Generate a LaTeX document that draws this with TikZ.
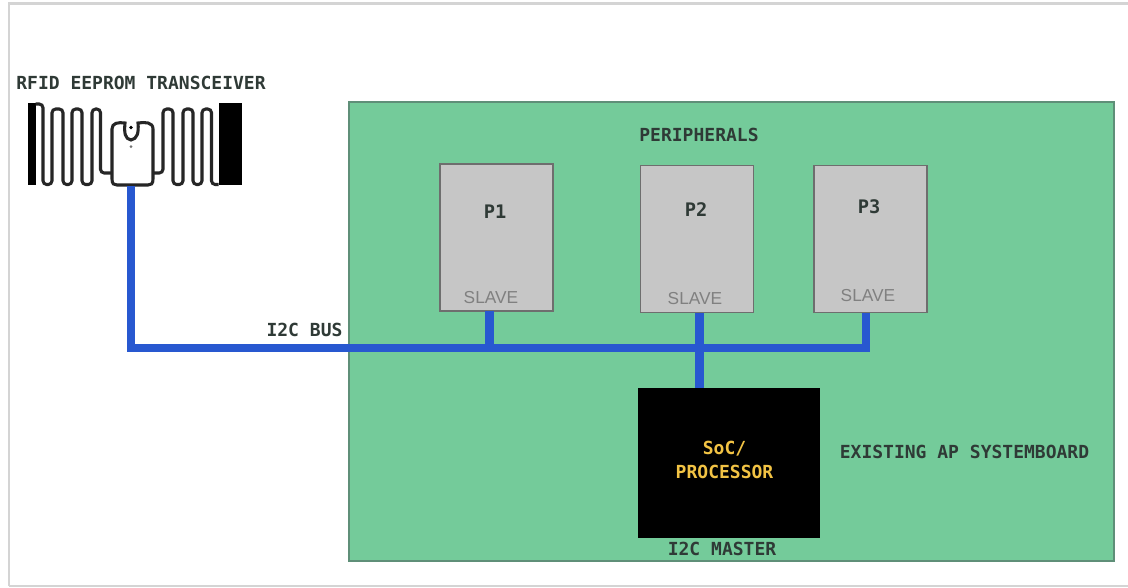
\documentclass[tikz,border=0pt]{standalone}
\usepackage{fontspec}
\setmainfont{Liberation Sans}
\setmonofont{DejaVu Sans Mono}
\definecolor{board}{HTML}{74CB9A}
\definecolor{boardline}{HTML}{5F8F78}
\definecolor{chipgray}{HTML}{C6C6C6}
\definecolor{chipline}{HTML}{6E6E6E}
\definecolor{busblue}{HTML}{2858D0}
\definecolor{socyellow}{HTML}{F2C344}
\definecolor{frameline}{HTML}{D4D4D4}
\definecolor{ink}{HTML}{2F3A36}
\begin{document}
\begin{tikzpicture}[x=0.75pt,y=-0.75pt,
  monolabel/.style={font=\ttfamily\bfseries\fontsize{13.5}{16}\selectfont,text=ink,inner sep=0pt,anchor=center},
  periph/.style={draw=chipline,line width=1.1pt,fill=chipgray,minimum width=84.75pt,minimum height=110.5pt,inner sep=0pt},
  plabel/.style={font=\ttfamily\bfseries\fontsize{14}{16}\selectfont,text=ink,inner sep=0pt},
  slavelabel/.style={font=\fontsize{13}{15}\selectfont,text=black!50,inner sep=0pt},
  bus/.style={draw=busblue,line width=6.3pt},
  antenna/.style={draw=black!85,line width=2.3pt,rounded corners=2.8pt}]
\useasboundingbox (0,0) rectangle (1128,587);
\fill[white] (0,0) rectangle (1128,587);
\draw[frameline,line width=1.6pt] (9,586) -- (9,3.5) -- (1128,3.5);
\draw[frameline,line width=1pt] (9,586) -- (1128,586);

% board
\node[draw=boardline,line width=1.1pt,fill=board,minimum width=573.75pt,minimum height=344.25pt,inner sep=0pt] (boardbox) at (731.5,331.5) {};

% peripherals
\node[periph] (p1) at (496.5,237.5) {};
\node[periph] (p2) at (697,239) {};
\node[periph] (p3) at (870.5,239) {};
\node[draw=black,fill=black,minimum width=135.75pt,minimum height=111.75pt,inner sep=0pt] (soc) at (728.5,462.5) {};

% antenna
\fill[black] (28,103) rectangle (35.5,185);
\fill[black] (218.5,103) rectangle (242,185);
\draw[antenna] (35.5,104) -- (43,104) -- (43,184.5) -- (52,184.5) -- (52,109) -- (63,109) -- (63,184.5) -- (72,184.5) -- (72,109) -- (82,109) -- (82,184.5) -- (92,184.5) -- (92,109) -- (100.5,109) -- (100.5,173) -- (112,173);
\draw[antenna] (153,173) -- (163,173) -- (163,109) -- (173,109) -- (173,184.5) -- (183,184.5) -- (183,109) -- (193,109) -- (193,184.5) -- (202,184.5) -- (202,109) -- (211.5,109) -- (211.5,184.5) -- (218.5,184.5);
\draw[draw=black!85,line width=2.3pt,fill=white] (112,179) -- (112,129) .. controls (112,123) and (118,122) .. (125,123) .. controls (124,133) and (125,139) .. (131,140) .. controls (137,139) and (139,133) .. (138,123) .. controls (145,122) and (153,122) .. (153,129) -- (153,179) .. controls (153,184) and (151,185) .. (148,185) -- (117,185) .. controls (114,185) and (112,184) .. (112,179) -- cycle;
\fill[black] (131,127.5) circle[radius=1.9];
\fill[black!55] (131,146.5) circle[radius=1.5];

% bus
\coordinate (chiptap) at (131,186);
\coordinate (busend) at (870,348);
\coordinate (p1tap) at (489.5,311);
\coordinate (p2tap) at (699.5,313);
\coordinate (p3tap) at (866,313);
\coordinate (soctap) at (699.5,388);
\draw[bus] (chiptap) |- (busend);
\draw[bus] (p1tap) -- (p1tap |- busend);
\draw[bus] (p2tap) -- (soctap);
\draw[bus] (p3tap) -- (p3tap |- busend);

% labels
\node[monolabel] (tagname) at (141,83) {RFID EEPROM TRANSCEIVER};
\node[monolabel] (periphname) at (699,135) {PERIPHERALS};
\node[monolabel] (busname) at (304.5,330) {I2C BUS};
\node[monolabel] (boardname) at (964.5,452) {EXISTING AP SYSTEMBOARD};
\node[monolabel] (mastername) at (722,549) {I2C MASTER};
\node[plabel] (p1name) at (495,212) {P1};
\node[plabel] (p2name) at (696,210) {P2};
\node[plabel] (p3name) at (869,207) {P3};
\node[slavelabel] (s1) at (491,298) {SLAVE};
\node[slavelabel] (s2) at (695,299) {SLAVE};
\node[slavelabel] (s3) at (868,296) {SLAVE};
\node[align=center,font=\ttfamily\bfseries\fontsize{13.5}{18}\selectfont,text=socyellow,inner sep=0pt] (socname) at (724.5,460) {SoC/\\PROCESSOR};
\end{tikzpicture}
\end{document}
